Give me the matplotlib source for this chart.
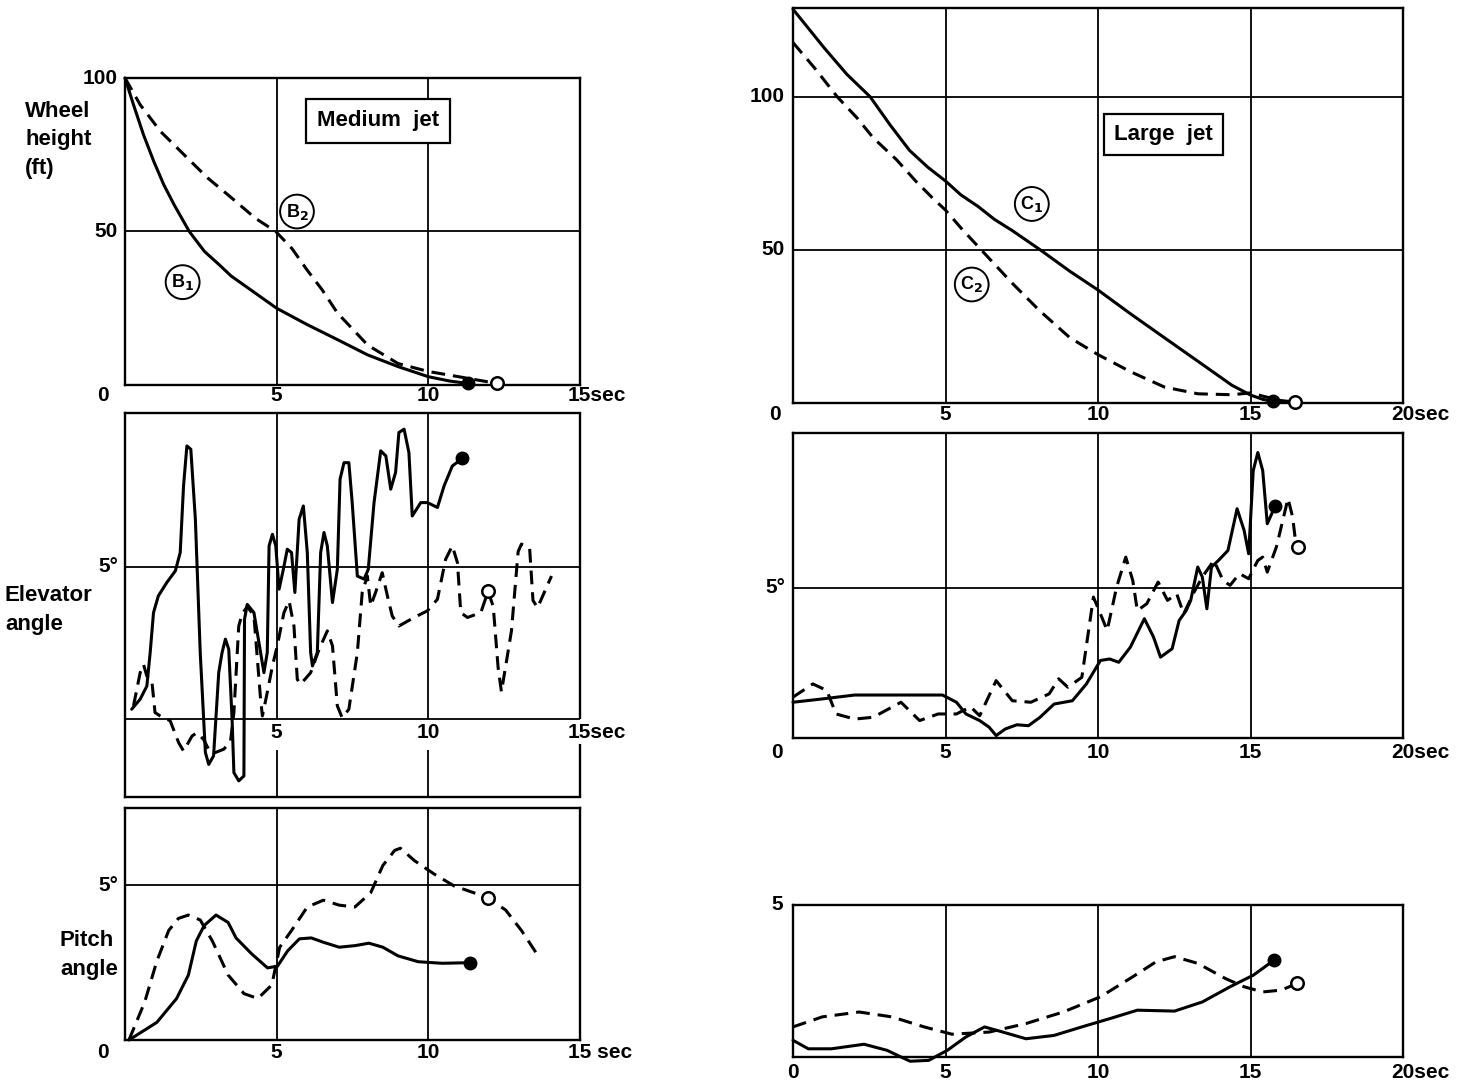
import matplotlib
matplotlib.use("Agg")
import matplotlib.pyplot as plt

plt.rcParams['font.family'] = ['Liberation Sans', 'DejaVu Sans']
plt.rcParams['font.weight'] = 'bold'
plt.rcParams['mathtext.default'] = 'bf'

# ---- medium jet : wheel height (ft) ----
b1_t = [0, 0.28, 0.61, 0.95, 1.28, 1.62, 2.12, 2.62, 3.07, 3.5, 4.0, 5.0, 6.0, 7.0, 8.0, 9.0, 10.0, 10.7, 11.3]
b1_h = [100, 91.3, 81.5, 72.8, 65.2, 58.7, 50, 43.5, 39.5, 35.5, 32, 25, 19.7, 14.8, 9.8, 6, 2.7, 1.3, 0.5]
b2_t = [0, 0.5, 1.17, 2.06, 2.73, 3.52, 4.3, 4.97, 5.5, 6.0, 6.5, 7.0, 8.0, 9.0, 10.0, 11.0, 12.27]
b2_h = [100, 91.3, 82.6, 73.9, 67.4, 60.9, 54.3, 50, 44.5, 37.5, 31, 23.5, 13, 7, 4.4, 2.7, 0.5]

# ---- medium jet : elevator angle (deg) ----
b1_elev_t = [0.22, 0.5, 0.72, 0.83, 0.94, 1.1, 1.38, 1.66, 1.82, 1.93, 2.04, 2.17, 2.32,
             2.48, 2.65, 2.76, 2.92, 3.09, 3.2, 3.31, 3.42, 3.53, 3.59, 3.75, 3.92, 3.94,
             4.03, 4.25, 4.47, 4.58, 4.69, 4.75, 4.86, 4.97, 5.08, 5.22, 5.35, 5.49, 5.6,
             5.74, 5.88, 6.01, 6.12, 6.18, 6.34, 6.45, 6.56, 6.67, 6.84, 7.0, 7.09, 7.22,
             7.38, 7.49, 7.66, 7.88, 8.02, 8.21, 8.43, 8.6, 8.76, 8.92, 9.03, 9.2, 9.36,
             9.47, 9.75, 9.97, 10.3, 10.52, 10.79, 11.12]
b1_elev = [0.33, 0.66, 1.09, 2.19, 3.5, 4.05, 4.49, 4.87, 5.47, 7.66, 8.97, 8.86, 6.56,
           2.19, -1.09, -1.48, -1.2, 1.53, 2.19, 2.63, 2.3, 0.0, -1.75, -2.02, -1.86, 3.28,
           3.77, 3.5, 2.19, 1.53, 2.19, 5.69, 6.07, 5.69, 4.27, 4.92, 5.58, 5.47, 4.16,
           6.56, 7.0, 5.47, 2.19, 1.75, 2.19, 5.47, 6.13, 5.69, 3.83, 4.92, 7.88, 8.42,
           8.42, 7.11, 4.7, 4.6, 4.92, 7.11, 8.81, 8.64, 7.55, 8.1, 9.41, 9.52, 8.75,
           6.67, 7.11, 7.11, 6.95, 7.66, 8.31, 8.56]
b2_elev_t = [0.28, 0.5, 0.61, 0.72, 0.88, 0.99, 1.16, 1.49, 1.77, 1.93, 2.21, 2.37, 2.59,
             2.81, 2.98, 3.26, 3.48, 3.59, 3.75, 3.86, 4.03, 4.25, 4.47, 4.53, 4.69, 4.86,
             5.02, 5.24, 5.41, 5.57, 5.68, 5.79, 6.12, 6.4, 6.67, 6.84, 7.0, 7.16, 7.38,
             7.66, 7.82, 7.99, 8.1, 8.26, 8.48, 8.65, 8.81, 9.03, 9.53, 9.97, 10.3, 10.57,
             10.79, 10.96, 11.07, 11.29, 11.73, 11.97, 12.14, 12.3, 12.41, 12.74, 12.96,
             13.07, 13.34, 13.45, 13.6, 14.06]
b2_elev = [0.44, 1.53, 1.8, 1.42, 1.31, 0.22, 0.11, -0.05, -0.77, -1.04, -0.55, -0.44, -0.66,
           -1.09, -1.09, -0.98, -0.71, 0.22, 3.06, 3.45, 3.7, 3.4, 0.66, 0.11, 0.88, 1.75,
           2.41, 3.5, 3.88, 3.06, 1.31, 1.15, 1.53, 2.3, 2.9, 2.41, 0.44, 0.05, 0.33,
           2.19, 4.16, 4.7, 3.72, 4.16, 4.81, 4.05, 3.39, 3.06, 3.34, 3.56, 3.94, 5.25,
           5.69, 5.14, 3.5, 3.34, 3.5, 4.2, 3.7, 1.7, 0.9, 2.9, 5.5,
           5.75, 5.6, 3.9, 3.66, 4.7]
b2_elev_end = (11.97, 4.2)

# ---- medium jet : pitch angle (deg) ----
b1_pitch_t = [0.13, 1.05, 1.7, 2.09, 2.35, 2.61, 3.0, 3.4, 3.66, 4.18, 4.7, 5.03, 5.36,
              5.75, 6.14, 6.54, 7.06, 7.58, 8.04, 8.5, 9.0, 9.67, 10.46, 11.37]
b1_pitch = [0, 0.57, 1.34, 2.1, 3.2, 3.7, 4.04, 3.8, 3.3, 2.78, 2.33, 2.39, 2.88,
            3.27, 3.3, 3.16, 3.0, 3.05, 3.13, 3.0, 2.72, 2.53, 2.48, 2.5]
b2_pitch_t = [0.13, 0.65, 1.05, 1.44, 1.76, 2.09, 2.48, 2.88, 3.4, 3.92, 4.38, 4.84, 5.1,
              5.49, 6.01, 6.54, 7.06, 7.58, 8.1, 8.5, 8.89, 9.08, 9.54, 10.2, 10.85, 11.5,
              11.96, 12.55, 13.07, 13.66]
b2_pitch = [0, 1.23, 2.55, 3.54, 3.93, 4.04, 3.88, 3.2, 2.1, 1.5, 1.34, 1.78, 3.0,
            3.54, 4.3, 4.52, 4.36, 4.3, 4.76, 5.64, 6.13, 6.2, 5.8, 5.36, 4.98, 4.76,
            4.6, 4.2, 3.54, 2.66]
b2_pitch_end = (11.96, 4.6)

# ---- large jet : wheel height (ft) ----
c1_t = [0, 1.02, 1.77, 2.53, 3.17, 3.82, 4.42, 5.0, 5.5, 6.08, 6.6, 7.19, 8.08, 9.08,
        10.0, 11.07, 12.18, 13.28, 14.39, 15.0, 15.4, 15.74]
c1_h = [128.6, 116, 107.3, 100, 91, 82.5, 77, 72.5, 68, 64.1, 60, 56.3, 50.2, 43,
        36.9, 29.1, 21.3, 13.6, 5.8, 2.6, 1.2, 0.5]
c2_t = [0, 0.7, 1.45, 2.1, 2.63, 3.39, 4.03, 4.57, 5.0, 5.53, 6.2, 7.19, 8.08, 9.08,
        10.0, 11.07, 12.18, 13.28, 14.39, 15.0, 15.5, 16.0, 16.46]
c2_h = [117.7, 109.5, 100, 93.1, 86.6, 79.5, 72.4, 67, 63, 56.9, 49.7, 39.1, 30.2, 21.3,
        15.8, 10.2, 5.2, 3.0, 2.7, 3.3, 2.0, 0.8, 0.3]

# ---- large jet : elevator angle (deg) ----
c1_elev_t = [0, 0.96, 2.02, 2.78, 4.9, 5.36, 5.67, 6.12, 6.43, 6.66, 6.96, 7.34, 7.72,
             8.1, 8.56, 9.16, 9.62, 10.08, 10.38, 10.68, 11.06, 11.52, 11.82, 12.05,
             12.43, 12.66, 12.89, 13.04, 13.27, 13.42, 13.57, 13.72, 13.95, 14.26, 14.56,
             14.79, 14.94, 15.09, 15.24, 15.4, 15.55, 15.7, 15.8]
c1_elev = [1.19, 1.3, 1.43, 1.43, 1.43, 1.19, 0.8, 0.58, 0.36, 0.08, 0.3, 0.44, 0.41,
           0.69, 1.13, 1.24, 1.8, 2.58, 2.63, 2.52, 3.02, 3.97, 3.36, 2.69,
           2.97, 3.91, 4.24, 4.58, 5.69, 5.36, 4.3, 5.69, 5.91, 6.24, 7.63,
           6.91, 6.13, 8.9, 9.5, 8.9, 7.13, 7.47, 7.71]
c2_elev_t = [0, 0.65, 1.11, 1.41, 2.02, 2.63, 3.54, 4.15, 4.76, 5.36, 5.82, 6.12, 6.66,
             7.19, 7.8, 8.4, 8.71, 9.01, 9.47, 9.85, 10.08, 10.3, 10.61, 10.91, 11.14,
             11.29, 11.6, 11.97, 12.28, 12.58, 12.81, 13.12, 13.42, 13.8, 14.1, 14.33,
             14.64, 14.94, 15.24, 15.4, 15.55, 15.85, 16.23, 16.38, 16.46, 16.56]
c2_elev = [1.36, 1.8, 1.58, 0.8, 0.63, 0.69, 1.19, 0.58, 0.8, 0.8, 1.04, 0.74, 1.91,
           1.24, 1.19, 1.47, 1.97, 1.69, 2.02, 4.69, 4.13, 3.58, 5.02, 6.02, 5.24,
           4.24, 4.47, 5.19, 4.58, 4.8, 4.13, 4.8, 5.36, 5.91, 5.24, 5.08,
           5.47, 5.3, 5.91, 6.02, 5.52, 6.36, 7.97, 7.36, 6.69, 6.36]

# ---- large jet : pitch angle (deg) ----
c1_pitch_t = [0, 0.5, 1.26, 2.33, 3.08, 3.84, 4.45, 5.06, 5.67, 6.28, 6.88, 7.64, 8.56,
              9.47, 10.38, 11.29, 12.51, 13.42, 14.33, 15.09, 15.78]
c1_pitch = [0.55, 0.27, 0.27, 0.42, 0.22, -0.14, -0.11, 0.22, 0.66, 0.99, 0.82, 0.6, 0.71,
            0.99, 1.26, 1.54, 1.51, 1.81, 2.31, 2.69, 3.19]
c2_pitch_t = [0, 0.96, 2.17, 3.24, 4.3, 5.21, 6.43, 7.64, 8.86, 10.08, 11.14, 11.9, 12.51,
              13.27, 14.18, 14.79, 15.4, 16.01, 16.53]
c2_pitch = [0.99, 1.32, 1.48, 1.32, 0.99, 0.75, 0.82, 1.1, 1.48, 1.98, 2.64, 3.13, 3.3,
            3.08, 2.58, 2.31, 2.14, 2.2, 2.42]

W, H = 1464, 1083
LW = 2.2
DASH = (0, (4.5, 2.6))
FS = 15
TITLE_FS = 16


def px_box(x0, y0, x1, y1):
    return [x0 / W, 1 - y1 / H, (x1 - x0) / W, (y1 - y0) / H]


def frame(ax, xlim, ylim, vgrid, hgrid):
    ax.set_xlim(*xlim)
    ax.set_ylim(*ylim)
    ax.set_xticks([])
    ax.set_yticks([])
    for s in ax.spines.values():
        s.set_linewidth(1.7)
    for v in vgrid:
        ax.axvline(v, color='black', lw=1.3, zorder=1)
    for h in hgrid:
        ax.axhline(h, color='black', lw=1.3, zorder=1)


def label(ax, x, y, s, dx, dy, ha='center', va='center', size=FS):
    ax.annotate(s, xy=(x, y), xytext=(dx, dy), textcoords='offset pixels',
                ha=ha, va=va, fontsize=size, fontweight='bold', annotation_clip=False)


def solid(ax, t, v, end=True):
    ax.plot(t, v, color='black', lw=LW, solid_joinstyle='round', solid_capstyle='round',
            zorder=3, clip_on=False)
    if end:
        ax.plot(t[-1], v[-1], 'o', color='black', ms=9, zorder=5, clip_on=False)


def dashed(ax, t, v, end=None):
    ax.plot(t, v, color='black', lw=LW, linestyle=DASH, dash_capstyle='butt',
            zorder=3, clip_on=False)
    if end is None:
        end = (t[-1], v[-1])
    ax.plot(*end, 'o', mfc='white', mec='black', mew=1.8, ms=9, zorder=5, clip_on=False)


def tag(ax, x, y, letter, sub):
    ax.text(x, y, letter + '$_{' + sub + '}$', ha='center', va='center', fontsize=13,
            fontweight='bold', zorder=6,
            bbox=dict(boxstyle='circle,pad=0.3', fc='white', ec='black', lw=1.4))


fig = plt.figure(figsize=(W / 100, H / 100), dpi=100)

# -------- medium jet: height --------
ax = fig.add_axes(px_box(125, 78, 580, 385))
frame(ax, (0, 15), (0, 100), [5, 10], [50])
solid(ax, b1_t, b1_h)
dashed(ax, b2_t, b2_h)
tag(ax, 1.9, 33.5, 'B', '1')
tag(ax, 5.67, 56.5, 'B', '2')
ax.text(8.35, 86, 'Medium  jet', ha='center', va='center', fontsize=TITLE_FS, fontweight='bold',
        bbox=dict(boxstyle='square,pad=0.5', fc='white', ec='black', lw=1.6))
label(ax, 0, 100, '100', -7, 0, ha='right')
label(ax, 0, 50, '50', -7, 0, ha='right')
label(ax, 0, 0, '0', -22, -11)
label(ax, 5, 0, '5', 0, -11)
label(ax, 10, 0, '10', 0, -11)
label(ax, 15, 0, '15sec', -12, -11, ha='left')
fig.text(25 / W, 1 - 140 / H, 'Wheel\nheight\n(ft)', ha='left', va='center',
         fontsize=TITLE_FS, fontweight='bold', linespacing=1.45)

# -------- medium jet: elevator --------
ax = fig.add_axes(px_box(125, 413, 580, 797))
ylo, yhi = -2.55, 10.05
frame(ax, (0, 15), (ylo, yhi), [], [0, 5])
ax.spines['right'].set_visible(False)
for v in [5, 10]:
    ax.vlines(v, 0, yhi, color='black', lw=1.3, zorder=1)
    ax.vlines(v, ylo, -1.0, color='black', lw=1.3, zorder=1)
ax.vlines(15, 0, yhi, color='black', lw=1.7, zorder=1, clip_on=False)
ax.vlines(15, ylo, -0.8, color='black', lw=1.7, zorder=1, clip_on=False)
solid(ax, b1_elev_t, b1_elev)
dashed(ax, b2_elev_t, b2_elev, end=b2_elev_end)
label(ax, 0, 5, '5°', -7, 0, ha='right')
label(ax, 5, 0, '5', 0, -13)
label(ax, 10, 0, '10', 0, -13)
label(ax, 15, 0, '15sec', -12, -13, ha='left')
fig.text(5 / W, 1 - 610 / H, 'Elevator\nangle', ha='left', va='center',
         fontsize=TITLE_FS, fontweight='bold', linespacing=1.5)

# -------- medium jet: pitch --------
ax = fig.add_axes(px_box(125, 808, 580, 1040))
frame(ax, (0, 15), (0, 7.5), [5, 10], [5])
solid(ax, b1_pitch_t, b1_pitch)
dashed(ax, b2_pitch_t, b2_pitch, end=b2_pitch_end)
label(ax, 0, 5, '5°', -7, 0, ha='right')
label(ax, 0, 0, '0', -22, -12)
label(ax, 5, 0, '5', 0, -12)
label(ax, 10, 0, '10', 0, -12)
label(ax, 15, 0, '15 sec', -12, -12, ha='left')
fig.text(60 / W, 1 - 955 / H, 'Pitch\nangle', ha='left', va='center',
         fontsize=TITLE_FS, fontweight='bold', linespacing=1.5)

# -------- large jet: height --------
ax = fig.add_axes(px_box(793, 8, 1403, 403))
frame(ax, (0, 20), (0, 129), [5, 10, 15], [50, 100])
solid(ax, c1_t, c1_h)
dashed(ax, c2_t, c2_h)
tag(ax, 7.83, 65, 'C', '1')
tag(ax, 5.86, 38.7, 'C', '2')
ax.text(12.15, 87.8, 'Large  jet', ha='center', va='center', fontsize=TITLE_FS, fontweight='bold',
        bbox=dict(boxstyle='square,pad=0.45', fc='white', ec='black', lw=1.6))
label(ax, 0, 100, '100', -8, 0, ha='right')
label(ax, 0, 50, '50', -8, 0, ha='right')
label(ax, 0, 0, '0', -18, -11)
label(ax, 5, 0, '5', 0, -11)
label(ax, 10, 0, '10', 0, -11)
label(ax, 15, 0, '15', 0, -11)
label(ax, 20, 0, '20sec', -12, -11, ha='left')

# -------- large jet: elevator --------
ax = fig.add_axes(px_box(793, 433, 1403, 738))
frame(ax, (0, 20), (0, 10.15), [5, 10, 15], [5])
solid(ax, c1_elev_t, c1_elev)
dashed(ax, c2_elev_t, c2_elev)
label(ax, 0, 5, '5°', -8, 0, ha='right')
label(ax, 0, 0, '0', -16, -14)
label(ax, 5, 0, '5', 0, -14)
label(ax, 10, 0, '10', 0, -14)
label(ax, 15, 0, '15', 0, -14)
label(ax, 20, 0, '20sec', -12, -14, ha='left')

# -------- large jet: pitch --------
ax = fig.add_axes(px_box(793, 905, 1403, 1057))
frame(ax, (0, 20), (0, 5), [5, 10, 15], [])
solid(ax, c1_pitch_t, c1_pitch)
dashed(ax, c2_pitch_t, c2_pitch)
label(ax, 0, 5, '5', -10, 0, ha='right')
label(ax, 0, 0, '0', 0, -16)
label(ax, 5, 0, '5', 0, -16)
label(ax, 10, 0, '10', 0, -16)
label(ax, 15, 0, '15', 0, -16)
label(ax, 20, 0, '20sec', -12, -16, ha='left')

fig.savefig('out.png', dpi=100, facecolor='white')
